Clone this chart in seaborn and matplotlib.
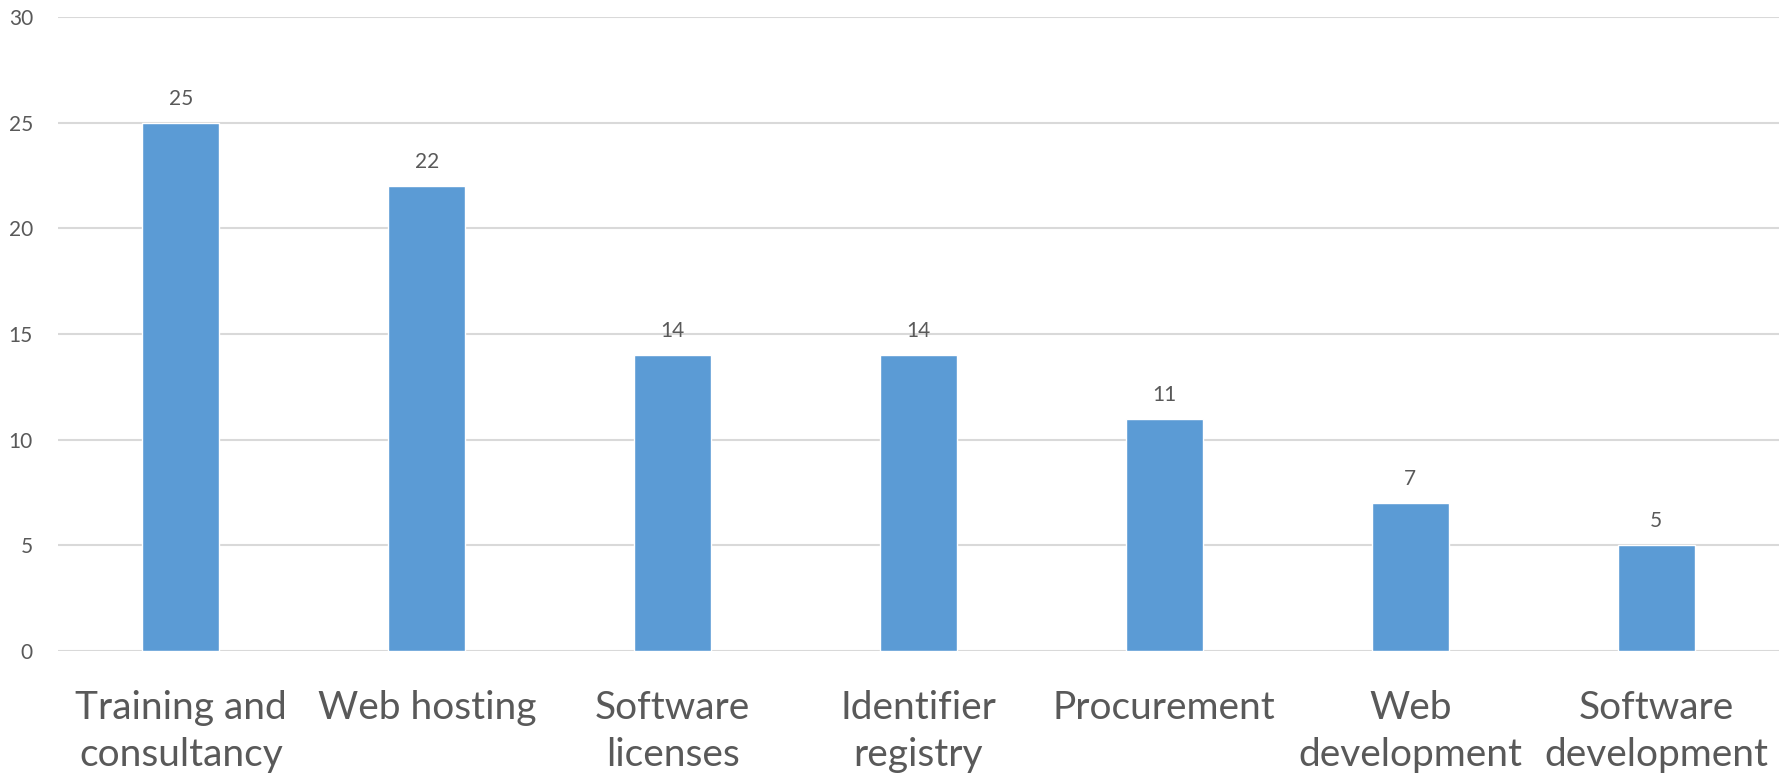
import matplotlib
matplotlib.use("Agg")
import matplotlib.pyplot as plt
import seaborn as sns
import pandas as pd

categories = ["Training and\nconsultancy", "Web hosting", "Software\nlicenses",
              "Identifier\nregistry", "Procurement", "Web\ndevelopment",
              "Software\ndevelopment"]
values = [25, 22, 14, 14, 11, 7, 5]
y_ticks = [0, 5, 10, 15, 20, 25, 30]

sns.set_theme(style="white")
plt.rcParams['font.family'] = ['Lato', 'DejaVu Sans']

TEXT = "#595959"
df = pd.DataFrame({"category": categories, "value": values})

fig = plt.figure(figsize=(17.79, 7.78), dpi=100)
ax = fig.add_axes([58/1779, (778-651)/778, 1 - 58/1779, (651-17)/778])

sns.barplot(data=df, x="category", y="value", color="#5B9BD5", width=0.313,
            saturation=1, ax=ax, zorder=3)

ax.set_ylim(0, 30)
ax.set_yticks(y_ticks)
ax.set_xlim(-0.5, len(categories) - 0.5)
ax.yaxis.grid(True, color="#D9D9D9", linewidth=1.5)
ax.set_axisbelow(True)
for s in ax.spines.values():
    s.set_visible(False)
ax.set_xlabel("")
ax.set_ylabel("")
ax.tick_params(axis="y", labelsize=15, colors=TEXT, pad=18, length=0)
ax.tick_params(axis="x", labelsize=28, colors=TEXT, pad=28, length=0)
for t in ax.get_xticklabels():
    t.set_linespacing(1.4)
    t.set_verticalalignment("top")

for c in ax.containers:
    ax.bar_label(c, labels=[str(v) for v in values], padding=10, fontsize=15, color=TEXT)

fig.savefig("out.png", dpi=100)
